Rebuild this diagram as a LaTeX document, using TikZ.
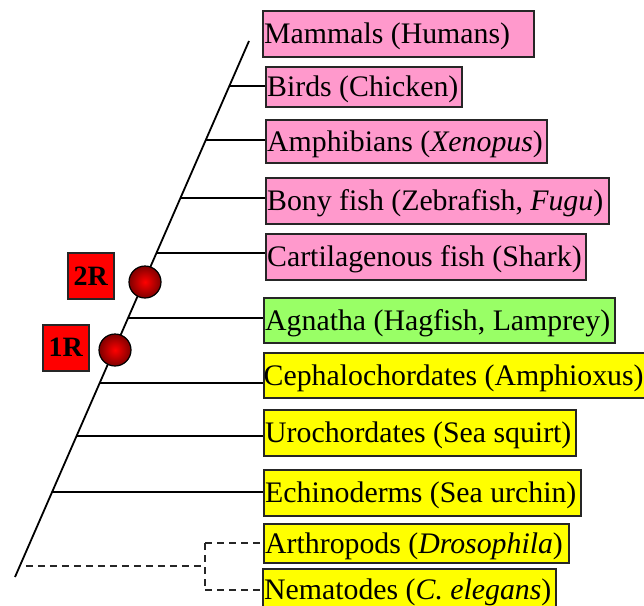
\documentclass[tikz,border=0pt]{standalone}
\usepackage{fontspec}
\setmainfont{Liberation Serif}
\usetikzlibrary{calc}
\definecolor{pinkc}{HTML}{FF99CC}
\definecolor{greenc}{HTML}{99FF66}
\definecolor{yellowc}{HTML}{FFFF00}
\begin{document}
\begin{tikzpicture}[x=1pt,y=-1pt,
  box/.style={draw=black!85, line width=1.5pt, rectangle, inner sep=0pt, anchor=north west},
  txt/.style={inner sep=0pt, anchor=base west, font=\fontsize{29.8}{36}\selectfont},
  branch/.style={draw=black, line width=1.8pt},
  dashbranch/.style={draw=black!85, line width=1.6pt, dash pattern=on 7pt off 5pt},
  rbox/.style={draw=black!85, line width=1.5pt, fill=red, minimum width=46pt, minimum height=46pt, inner sep=0pt, anchor=north west, font=\fontsize{28}{32}\selectfont\bfseries},
  ball/.style={circle, draw=black, line width=1.2pt, minimum size=32pt, inner sep=0pt, inner color=red, outer color=red!50!black}]
\useasboundingbox (0,0) rectangle (644,605);
\clip (0,0) rectangle (644,605);
% boxes
\node[box, fill=pinkc, minimum width=271pt, minimum height=46pt] (mam) at (262,10) {};
\node[box, fill=pinkc, minimum width=196pt, minimum height=40pt] (bird) at (265,66) {};
\node[box, fill=pinkc, minimum width=281pt, minimum height=43pt] (amph) at (265,119) {};
\node[box, fill=pinkc, minimum width=343pt, minimum height=46pt] (bony) at (265,177) {};
\node[box, fill=pinkc, minimum width=320pt, minimum height=46pt] (cart) at (265,233) {};
\node[box, fill=greenc, minimum width=351pt, minimum height=45pt] (agn) at (263,297) {};
\node[box, fill=yellowc, minimum width=390pt, minimum height=45pt] (ceph) at (263,352) {};
\node[box, fill=yellowc, minimum width=312pt, minimum height=46pt] (uro) at (263,409) {};
\node[box, fill=yellowc, minimum width=317pt, minimum height=46pt] (ech) at (263,469) {};
\node[box, fill=yellowc, minimum width=305pt, minimum height=39pt] (arth) at (263,523) {};
\node[box, fill=yellowc, minimum width=293pt, minimum height=42pt] (nem) at (262,568) {};
% texts
\node[txt] (mamt) at ([xshift=2pt,yshift=-10pt]mam.west) {Mammals (Humans)};
\node[txt] (birdt) at ([xshift=2pt,yshift=-10pt]bird.west) {Birds (Chicken)};
\node[txt] (ampht) at ([xshift=2pt,yshift=-10pt]amph.west) {Amphibians (\textit{Xenopus})};
\node[txt] (bonyt) at ([xshift=2pt,yshift=-10pt]bony.west) {Bony fish (Zebrafish, \textit{Fugu})};
\node[txt] (cartt) at ([xshift=2pt,yshift=-10pt]cart.west) {Cartilagenous fish (Shark)};
\node[txt] (agnt) at ([xshift=2pt,yshift=-10pt]agn.west) {Agnatha (Hagfish, Lamprey)};
\node[txt] (cepht) at ([xshift=0.5pt,yshift=-10pt]ceph.west) {Cephalochordates (Amphioxus)};
\node[txt] (urot) at ([xshift=2pt,yshift=-10pt]uro.west) {Urochordates (Sea squirt)};
\node[txt] (echt) at ([xshift=2pt,yshift=-10pt]ech.west) {Echinoderms (Sea urchin)};
\node[txt] (artht) at ([xshift=2pt,yshift=-10pt]arth.west) {Arthropods (\textit{Drosophila})};
\node[txt] (nemt) at ([xshift=2pt,yshift=-10pt]nem.west) {Nematodes (\textit{C. elegans})};
% trunk
\coordinate (bot) at (15,577);
\coordinate (top) at (249,41);
\draw[branch] (bot) -- (top);
% branches
\foreach \n/\yy in {bird/86, amph/140, bony/198, cart/253, agn/318, ceph/383, uro/436, ech/492}{
  \coordinate (s\n) at (intersection of bot--top and 0,\yy--10,\yy);
  \draw[branch] (s\n) -- (s\n -| \n.west);
}
% dashed outgroup
\coordinate (d0) at (intersection of bot--top and 0,566--10,566);
\coordinate (dj) at (205,566);
\draw[dashbranch] ([xshift=6pt]d0) -- (dj);
\draw[dashbranch] (arth.west -| dj) -- (nem.west -| dj);
\draw[dashbranch] (arth.west -| dj) -- (arth.west);
\draw[dashbranch] (nem.west -| dj) -- (nem.west);
% duplication events
\node[ball] (c2) at (145,282) {};
\node[ball] (c1) at (115,350) {};
\node[rbox] (r2) at (67,252) {2R};
\node[rbox] (r1) at (42,324) {1R};
\end{tikzpicture}
\end{document}
